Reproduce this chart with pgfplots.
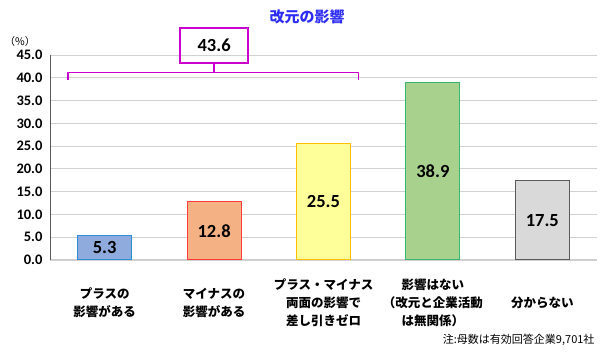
\documentclass[border=0pt]{standalone}
\usepackage{pgfplots}
\pgfplotsset{compat=1.18}
\usepackage{fontspec}
\setmainfont{Carlito}
\newfontfamily\jp{Noto Sans CJK JP}
\definecolor{bfill1}{HTML}{8FAADC}\definecolor{bdraw1}{HTML}{2E8BD6}
\definecolor{bfill2}{HTML}{F4B183}\definecolor{bdraw2}{HTML}{FF3B3B}
\definecolor{bfill3}{HTML}{FFFF99}\definecolor{bdraw3}{HTML}{FFC000}
\definecolor{bfill4}{HTML}{A9D18E}\definecolor{bdraw4}{HTML}{3CB371}
\definecolor{bfill5}{HTML}{D9D9D9}\definecolor{bdraw5}{HTML}{595959}
\definecolor{brk}{RGB}{204,0,204}
\definecolor{ttl}{RGB}{45,45,245}
\begin{document}
\begin{tikzpicture}
\useasboundingbox (0,0) rectangle (600pt,353pt);
\node[font=\jp\bfseries\fontsize{15}{18}\selectfont, text=ttl] at (307pt,336pt) {改元の影響};
\node[font=\jp\fontsize{10.5}{12}\selectfont] at (20pt,311pt) {（\%）};
\node[font=\jp\fontsize{11}{13}\selectfont, anchor=east] at (598pt,13pt) {注:母数は有効回答企業9,701社};
\begin{axis}[
  at={(50pt,93pt)}, anchor=south west,
  scale only axis, width=547pt, height=205pt,
  xmin=-0.5, xmax=4.5, ymin=0, ymax=45,
  ytick={0,5,...,45},
  xtick={0,1,2,3,4},
  xticklabels={{プラスの\\影響がある},{マイナスの\\影響がある},{プラス・マイナス\\両面の影響で\\差し引きゼロ},{影響はない\\（改元と企業活動\\は無関係）},{分からない}},
  xticklabel style={font=\jp\bfseries\fontsize{12.5}{18}\selectfont, align=center, anchor=center, yshift=-43pt},
  yticklabel style={font=\bfseries\fontsize{14.5}{16}\selectfont, xshift=-4pt},
  /pgf/number format/assume math mode=true,
  yticklabel={\pgfmathprintnumber[fixed,fixed zerofill,precision=1]{\tick}},
  major tick length=0pt,
  axis x line*=bottom, axis y line*=left,
  x axis line style={draw=black!20, line width=1pt},
  y axis line style={draw=black!65, line width=1pt},
  ymajorgrids, grid style={draw=black!18, line width=0.8pt},
  ybar, bar width=54pt, bar shift=0pt,
  clip=false,
  nodes near coords={\pgfmathprintnumber[fixed,fixed zerofill,precision=1]{\pgfplotspointmeta}},
  visualization depends on=rawy\as\rawy,
  every node near coord/.append style={anchor=center, font=\bfseries\fontsize{18.5}{20}\selectfont, text=black,
     shift={(axis direction cs:0,-\rawy/2)}},
]
\addplot[fill=bfill1, draw=bdraw1, line width=1pt] coordinates {(0,5.3)};
\addplot[fill=bfill2, draw=bdraw2, line width=1pt] coordinates {(1,12.8)};
\addplot[fill=bfill3, draw=bdraw3, line width=1pt] coordinates {(2,25.5)};
\addplot[fill=bfill4, draw=bdraw4, line width=1pt] coordinates {(3,38.9)};
\addplot[fill=bfill5, draw=bdraw5, line width=1pt] coordinates {(4,17.5)};
\draw[brk, line width=1.3pt] (axis cs:-0.335,39.6) -- (axis cs:-0.335,41.1) -- (axis cs:2.317,41.1) -- (axis cs:2.317,39.6);
\draw[brk, line width=1.3pt] (axis cs:1.0,41.1) -- (axis cs:1.0,43.25);
\node[draw=brk, line width=1.3pt, minimum width=68pt, minimum height=35pt, inner sep=0pt,
  font=\bfseries\fontsize{18.5}{20}\selectfont] at (axis cs:1.0,47.1) {43.6};
\end{axis}
\end{tikzpicture}
\end{document}
